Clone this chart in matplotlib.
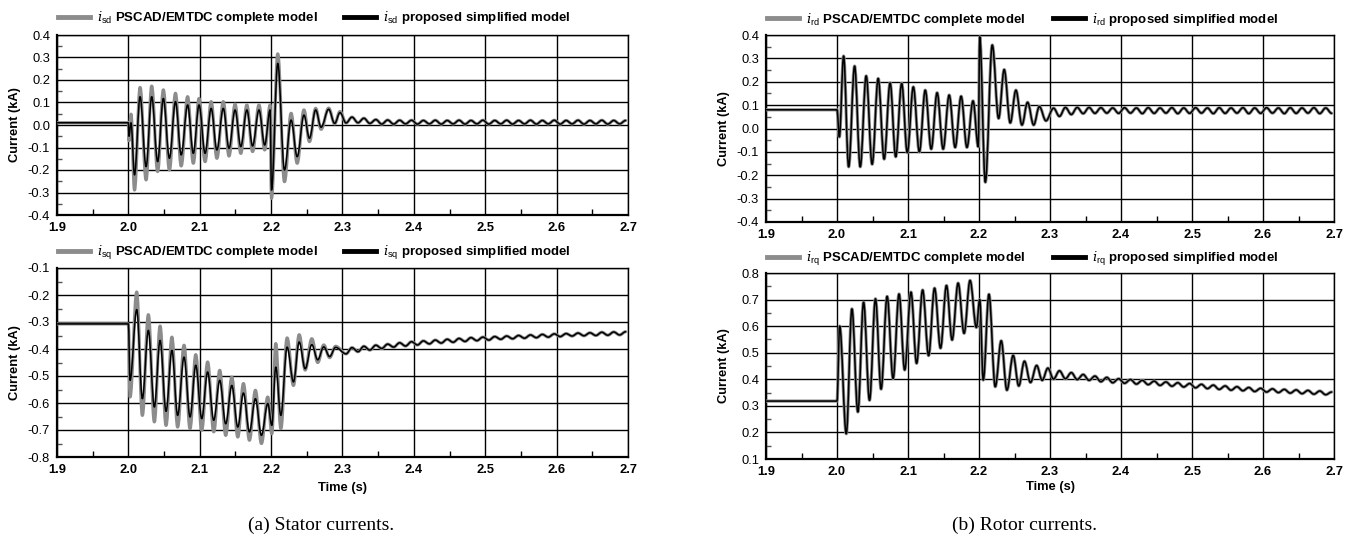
import matplotlib
matplotlib.use("Agg")
import matplotlib.pyplot as plt
from matplotlib.lines import Line2D
from matplotlib.patches import PathPatch
from matplotlib.path import Path
from matplotlib.ticker import FormatStrFormatter, MultipleLocator

plt.rcParams["font.family"] = ["Liberation Sans", "DejaVu Sans"]
plt.rcParams["axes.unicode_minus"] = False
plt.rcParams["mathtext.fontset"] = "custom"
plt.rcParams["mathtext.it"] = "DejaVu Serif:italic"
plt.rcParams["mathtext.rm"] = "Liberation Sans"

# --- data: extrema of each trace (time in s, current in kA) ---

# shared time stamps of the small steady ripple after 2.3 s (both models coincide there)
t_tail = [
    2.3050, 2.3133, 2.3217, 2.3300, 2.3383, 2.3467, 2.3550, 2.3633, 2.3717, 2.3800,
    2.3883, 2.3967, 2.4050, 2.4133, 2.4217, 2.4300, 2.4383, 2.4467, 2.4550, 2.4633,
    2.4717, 2.4800, 2.4883, 2.4967, 2.5050, 2.5133, 2.5217, 2.5300, 2.5383, 2.5467,
    2.5550, 2.5633, 2.5717, 2.5800, 2.5883, 2.5967, 2.6050, 2.6133, 2.6217, 2.6300,
    2.6383, 2.6467, 2.6550, 2.6633, 2.6717, 2.6800, 2.6883, 2.6967,
]

# stator d-axis current
t_sd = [
    1.900, 2.000, 2.0008, 2.0037, 2.0086, 2.0164, 2.0248, 2.0327, 2.0410, 2.0490,
    2.0575, 2.0660, 2.0740, 2.0830, 2.0910, 2.0990, 2.1075, 2.1160, 2.1240, 2.1330,
    2.1410, 2.1495, 2.1575, 2.1660, 2.1740, 2.1830, 2.1910, 2.1986, 2.2005, 2.2093,
    2.2187, 2.2280, 2.2365, 2.2460, 2.2537, 2.2624, 2.2700, 2.2806, 2.2890, 2.2965,
]
isd_pscad = [
    0.010, 0.010, -0.070, 0.048, -0.289, 0.167, -0.244, 0.173, -0.207, 0.156,
    -0.200, 0.141, -0.182, 0.126, -0.170, 0.118, -0.163, 0.104, -0.148, 0.104,
    -0.138, 0.093, -0.126, 0.089, -0.118, 0.089, -0.111, 0.089, -0.326, 0.316,
    -0.252, 0.052, -0.170, 0.067, -0.074, 0.074, -0.019, 0.075, 0.005, 0.060,
]
isd_model = [
    0.010, 0.010, -0.050, 0.010, -0.222, 0.126, -0.185, 0.126, -0.163, 0.118,
    -0.148, 0.104, -0.133, 0.089, -0.126, 0.089, -0.126, 0.074, -0.111, 0.074,
    -0.104, 0.067, -0.096, 0.067, -0.093, 0.067, -0.089, 0.067, -0.289, 0.274,
    -0.200, 0.022, -0.141, 0.044, -0.059, 0.067, -0.010, 0.070, 0.007, 0.055,
]
isd_tail = [
    0.009, 0.035, 0.010, 0.030, 0.007, 0.024, 0.004, 0.022, 0.004, 0.021,
    0.005, 0.021, 0.004, 0.020, 0.005, 0.021, 0.004, 0.020, 0.005, 0.021,
    0.004, 0.020, 0.005, 0.021, 0.004, 0.020, 0.005, 0.021, 0.004, 0.020,
    0.005, 0.021, 0.004, 0.020, 0.005, 0.021, 0.004, 0.020, 0.005, 0.021,
    0.004, 0.020, 0.005, 0.021, 0.004, 0.020, 0.005, 0.020,
]

# stator q-axis current
t_sq = [
    1.900, 2.000, 2.0023, 2.0117, 2.0196, 2.0280, 2.0364, 2.0444, 2.0528, 2.0610,
    2.0690, 2.0780, 2.0864, 2.0944, 2.1028, 2.1110, 2.1196, 2.1280, 2.1364, 2.1449,
    2.1533, 2.1612, 2.1696, 2.1780, 2.1864, 2.1953, 2.2010, 2.2065, 2.2136, 2.2224,
    2.2313, 2.2393, 2.2477, 2.2570, 2.2653, 2.2737, 2.2820, 2.2903,
]
isq_pscad = [
    -0.307, -0.307, -0.578, -0.189, -0.646, -0.273, -0.670, -0.315, -0.683, -0.356,
    -0.689, -0.386, -0.695, -0.421, -0.701, -0.448, -0.707, -0.479, -0.720, -0.504,
    -0.726, -0.528, -0.738, -0.553, -0.750, -0.578, -0.714, -0.380, -0.695, -0.359,
    -0.535, -0.347, -0.478, -0.362, -0.450, -0.385, -0.432, -0.390,
]
isq_model = [
    -0.307, -0.307, -0.516, -0.254, -0.584, -0.331, -0.615, -0.368, -0.631, -0.405,
    -0.646, -0.430, -0.652, -0.460, -0.658, -0.485, -0.664, -0.516, -0.677, -0.535,
    -0.689, -0.563, -0.707, -0.584, -0.720, -0.602, -0.683, -0.467, -0.646, -0.393,
    -0.522, -0.374, -0.473, -0.384, -0.440, -0.392, -0.428, -0.394,
]
isq_tail = [
    -0.418, -0.395, -0.410, -0.390, -0.404, -0.386, -0.398, -0.382, -0.393, -0.377,
    -0.389, -0.373, -0.385, -0.370, -0.381, -0.367, -0.378, -0.364, -0.375, -0.361,
    -0.372, -0.358, -0.369, -0.356, -0.367, -0.354, -0.364, -0.352, -0.362, -0.350,
    -0.360, -0.348, -0.358, -0.346, -0.356, -0.344, -0.354, -0.343, -0.352, -0.341,
    -0.351, -0.340, -0.350, -0.338, -0.349, -0.337, -0.348, -0.336,
]

# rotor d-axis current (both traces overlap in the figure)
t_rd = [
    1.900, 2.000, 2.0033, 2.0093, 2.0164, 2.0248, 2.0327, 2.0411, 2.0495, 2.0580,
    2.0664, 2.0748, 2.0827, 2.0911, 2.0990, 2.1075, 2.1160, 2.1243, 2.1327, 2.1410,
    2.1495, 2.1580, 2.1664, 2.1748, 2.1830, 2.1916, 2.1990, 2.2010, 2.2089, 2.2187,
    2.2276, 2.2355, 2.2440, 2.2520, 2.2605, 2.2684, 2.2770, 2.2850, 2.2943,
]
ird_model = [
    0.080, 0.080, -0.036, 0.310, -0.164, 0.267, -0.164, 0.225, -0.153, 0.214,
    -0.131, 0.195, -0.121, 0.193, -0.103, 0.178, -0.100, 0.164, -0.088, 0.153,
    -0.088, 0.143, -0.081, 0.138, -0.081, 0.118, -0.078, 0.392, -0.230, 0.357,
    0.043, 0.252, 0.024, 0.164, 0.015, 0.112, 0.015, 0.094, 0.033,
]
ird_pscad = ird_model
ird_tail = [
    0.087, 0.052, 0.090, 0.060, 0.090, 0.064, 0.090, 0.065, 0.089, 0.066,
    0.088, 0.065, 0.089, 0.066, 0.088, 0.064, 0.089, 0.065, 0.088, 0.066,
    0.089, 0.064, 0.088, 0.065, 0.089, 0.066, 0.088, 0.064, 0.089, 0.065,
    0.088, 0.066, 0.089, 0.064, 0.088, 0.065, 0.089, 0.066, 0.088, 0.064,
    0.089, 0.065, 0.088, 0.066, 0.089, 0.064, 0.088, 0.065,
]

# rotor q-axis current (both traces overlap in the figure)
t_rq = [
    1.900, 2.000, 2.0037, 2.0131, 2.0210, 2.0294, 2.0374, 2.0458, 2.0542, 2.0621,
    2.0706, 2.0790, 2.0874, 2.0953, 2.1042, 2.1121, 2.1206, 2.1290, 2.1374, 2.1458,
    2.1542, 2.1621, 2.1706, 2.1790, 2.1874, 2.1963, 2.2010, 2.2060, 2.2140, 2.2229,
    2.2313, 2.2393, 2.2481, 2.2560, 2.2640, 2.2725, 2.2812, 2.2890, 2.2970,
]
irq_model = [
    0.318, 0.318, 0.600, 0.195, 0.665, 0.277, 0.690, 0.321, 0.703, 0.363,
    0.712, 0.403, 0.721, 0.435, 0.728, 0.460, 0.736, 0.489, 0.743, 0.517,
    0.753, 0.548, 0.762, 0.573, 0.772, 0.595, 0.700, 0.397, 0.720, 0.372,
    0.545, 0.359, 0.490, 0.375, 0.468, 0.388, 0.452, 0.396, 0.442,
]
irq_pscad = irq_model
irq_tail = [
    0.401, 0.432, 0.402, 0.425, 0.399, 0.418, 0.396, 0.412, 0.391, 0.407,
    0.387, 0.402, 0.385, 0.399, 0.382, 0.396, 0.380, 0.393, 0.377, 0.390,
    0.374, 0.387, 0.371, 0.384, 0.368, 0.381, 0.365, 0.378, 0.362, 0.375,
    0.359, 0.372, 0.357, 0.369, 0.354, 0.366, 0.352, 0.364, 0.350, 0.362,
    0.348, 0.360, 0.346, 0.358, 0.344, 0.356, 0.342, 0.352,
]

Y_LIMITS = {"sd": (-0.4, 0.4), "sq": (-0.8, -0.1), "rd": (-0.4, 0.4), "rq": (0.1, 0.8)}
X_TICKS = [1.9, 2.0, 2.1, 2.2, 2.3, 2.4, 2.5, 2.6, 2.7]

GREY = "#8c8c8c"
W, H = 1351, 538


def px_rect(x0, y0, x1, y1):
    return [x0 / W, 1 - y1 / H, (x1 - x0) / W, (y1 - y0) / H]


def smooth_trace(ax, t, v, **style):
    # extrema have flat tangents, so join them with cubic segments that are
    # horizontal at both ends; this reproduces the sinusoidal look of the plot
    verts = [(t[0], v[0])]
    codes = [Path.MOVETO]
    for t0, v0, t1, v1 in zip(t, v, t[1:], v[1:]):
        d = 0.36 * (t1 - t0)
        verts += [(t0 + d, v0), (t1 - d, v1), (t1, v1)]
        codes += [Path.CURVE4] * 3
    ax.add_patch(PathPatch(Path(verts, codes), fill=False,
                           joinstyle="round", capstyle="round", **style))


def style_axes(ax, ylim):
    ax.set_xlim(X_TICKS[0], X_TICKS[-1])
    ax.set_ylim(*ylim)
    ax.set_xticks(X_TICKS)
    ax.xaxis.set_major_formatter(FormatStrFormatter("%.1f"))
    ax.xaxis.set_minor_locator(MultipleLocator(0.05))
    ax.yaxis.set_major_locator(MultipleLocator(0.1))
    ax.yaxis.set_major_formatter(FormatStrFormatter("%.1f"))
    ax.yaxis.set_minor_locator(MultipleLocator(0.05))
    ax.grid(which="major", color="black", linewidth=1.0)
    ax.tick_params(which="major", length=0, labelsize=9.3, pad=5)
    ax.tick_params(axis="x", which="minor", direction="in", length=4,
                   width=1.0, color="black", top=False)
    ax.tick_params(axis="y", which="minor", direction="in", length=3.5,
                   width=1.0, color="#555555", right=False)
    for label in ax.get_xticklabels():
        label.set_fontweight("bold")
    ax.spines["left"].set_linewidth(1.6)
    ax.spines["bottom"].set_linewidth(1.6)
    ax.spines["top"].set_linewidth(1.0)
    ax.spines["right"].set_linewidth(1.0)
    ax.set_ylabel("Current (kA)", fontsize=9.3, fontweight="bold")
    ax.yaxis.set_label_coords(-0.063, 0.5)


def add_legend(ax, sub, dy_px, height_px, second_px, width_px):
    dy = 1 + dy_px / height_px
    kw = dict(loc="center left", frameon=False, borderpad=0, borderaxespad=0,
              handlelength=2.4, handletextpad=0.55,
              prop={"weight": "bold", "size": 9.5})
    sym = rf"$\mathit{{i}}_{{\mathrm{{{sub}}}}}$"
    first = ax.legend([Line2D([], [], color=GREY, lw=3.5)],
                      [f"{sym} PSCAD/EMTDC complete model"],
                      bbox_to_anchor=(0.002, dy), **kw)
    ax.add_artist(first)
    ax.legend([Line2D([], [], color="black", lw=3.5)],
              [f"{sym} proposed simplified model"],
              bbox_to_anchor=(second_px / width_px, dy), **kw)


panels = [
    ("sd", px_rect(57, 35, 628, 215), t_sd, isd_pscad, isd_model, isd_tail, 17, None),
    ("sq", px_rect(57, 268, 628, 457), t_sq, isq_pscad, isq_model, isq_tail, 15, -0.13),
    ("rd", px_rect(766, 35, 1334, 222), t_rd, ird_pscad, ird_model, ird_tail, 16, None),
    ("rq", px_rect(766, 273, 1334, 459), t_rq, irq_pscad, irq_model, irq_tail, 14, -0.12),
]

fig = plt.figure(figsize=(W / 100, H / 100), dpi=100)
for sub, rect, t, pscad, model, tail, dy_px, xlabel_y in panels:
    ax = fig.add_axes(rect)
    smooth_trace(ax, t + t_tail, pscad + tail, edgecolor=GREY, linewidth=2.3, zorder=3)
    smooth_trace(ax, t + t_tail, model + tail, edgecolor="black", linewidth=1.1, zorder=4)
    style_axes(ax, Y_LIMITS[sub])
    if xlabel_y is not None:
        ax.set_xlabel("Time (s)", fontsize=9.3, fontweight="bold")
        ax.xaxis.set_label_coords(0.5, xlabel_y)
    add_legend(ax, sub, dy_px, rect[3] * H, 287, rect[2] * W)

fig.text(321 / W, 1 - 525 / H, "(a) Stator currents.", ha="center", va="center",
         family="Liberation Serif", fontsize=14)
fig.text(1025 / W, 1 - 525 / H, "(b) Rotor currents.", ha="center", va="center",
         family="Liberation Serif", fontsize=14)

fig.savefig("out.png", dpi=100)
